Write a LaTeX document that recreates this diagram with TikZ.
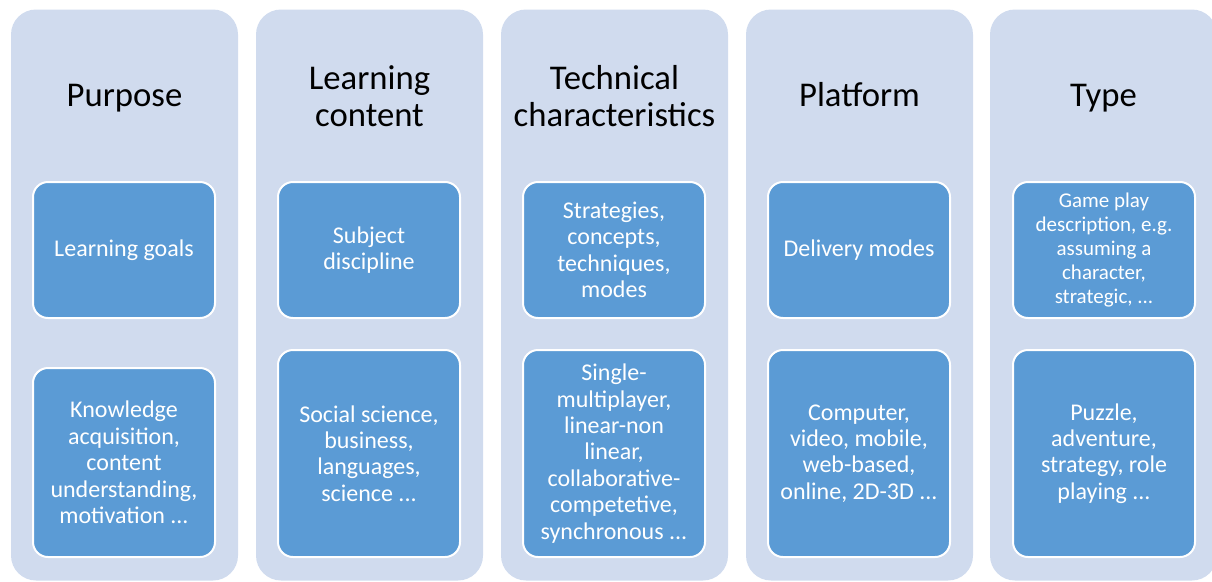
\documentclass[tikz,border=0pt]{standalone}
\usepackage{fontspec}
\setmainfont{Carlito}

\definecolor{panelblue}{HTML}{D0DBEE}
\definecolor{boxblue}{HTML}{5B9BD5}

\begin{document}
\begin{tikzpicture}[x=1pt,y=-1pt,
        panel/.style={rectangle, rounded corners=25pt, fill=panelblue, minimum width=227pt, minimum height=571pt, inner sep=0pt},
        heading/.style={align=center, font=\fontsize{34.7}{37}\selectfont},
        item/.style={rectangle, rounded corners=15pt, fill=boxblue, draw=white, line width=2pt, text=white, align=center, minimum width=182pt, inner sep=0pt, font=\fontsize{24}{26.4}\selectfont}]
        \useasboundingbox (0,0) rectangle (1212,581);

        % columns
        \node[panel] (purpose) at (124.5, 295) {};
        \node[panel] (content) at (369.5, 295) {};
        \node[panel] (technical) at (614.5, 295) {};
        \node[panel] (platform) at (859.5, 295) {};
        \node[panel] (type) at (1103.5, 295) {};

        % headings (one-line ones sit on their baseline)
        \node[heading, anchor=base] (purpose-head) at (124.5, 106.5) {Purpose};
        \node[heading] (content-head) at (369.5, 96) {Learning\\content};
        \node[heading] (technical-head) at (614.5, 96) {Technical\\characteristics};
        \node[heading, anchor=base] (platform-head) at (859.5, 106.5) {Platform};
        \node[heading, anchor=base] (type-head) at (1103.5, 106.5) {Type};

        % upper boxes
        \node[item, minimum height=136pt] (goals) at (124, 250) {Learning goals};
        \node[item, minimum height=136pt] (subject) at (369, 250) {Subject\\discipline};
        \node[item, minimum height=136pt] (strategies) at (614, 250) {Strategies,\\concepts,\\techniques,\\modes};
        \node[item, minimum height=136pt] (delivery) at (859, 250) {Delivery modes};
        \node[item, minimum height=136pt, font=\fontsize{21}{24}\selectfont] (gameplay) at (1104, 250) {Game play\\description, e.g.\\assuming a\\character,\\strategic, ...};

        % lower boxes
        \node[item, minimum height=189pt] (knowledge) at (124, 462.5) {Knowledge\\acquisition,\\content\\understanding,\\motivation ...};
        \node[item, minimum height=207pt] (science) at (369, 453.5) {Social science,\\business,\\languages,\\science ...};
        \node[item, minimum height=207pt] (modes) at (614, 453.5) {Single-\\multiplayer,\\linear-non\\linear,\\collaborative-\\competetive,\\synchronous ...};
        \node[item, minimum height=207pt] (devices) at (859, 453.5) {Computer,\\video, mobile,\\web-based,\\online, 2D-3D ...};
        \node[item, minimum height=207pt] (genres) at (1104, 453.5) {Puzzle,\\adventure,\\strategy, role\\playing ...};

    \end{tikzpicture}
\end{document}
